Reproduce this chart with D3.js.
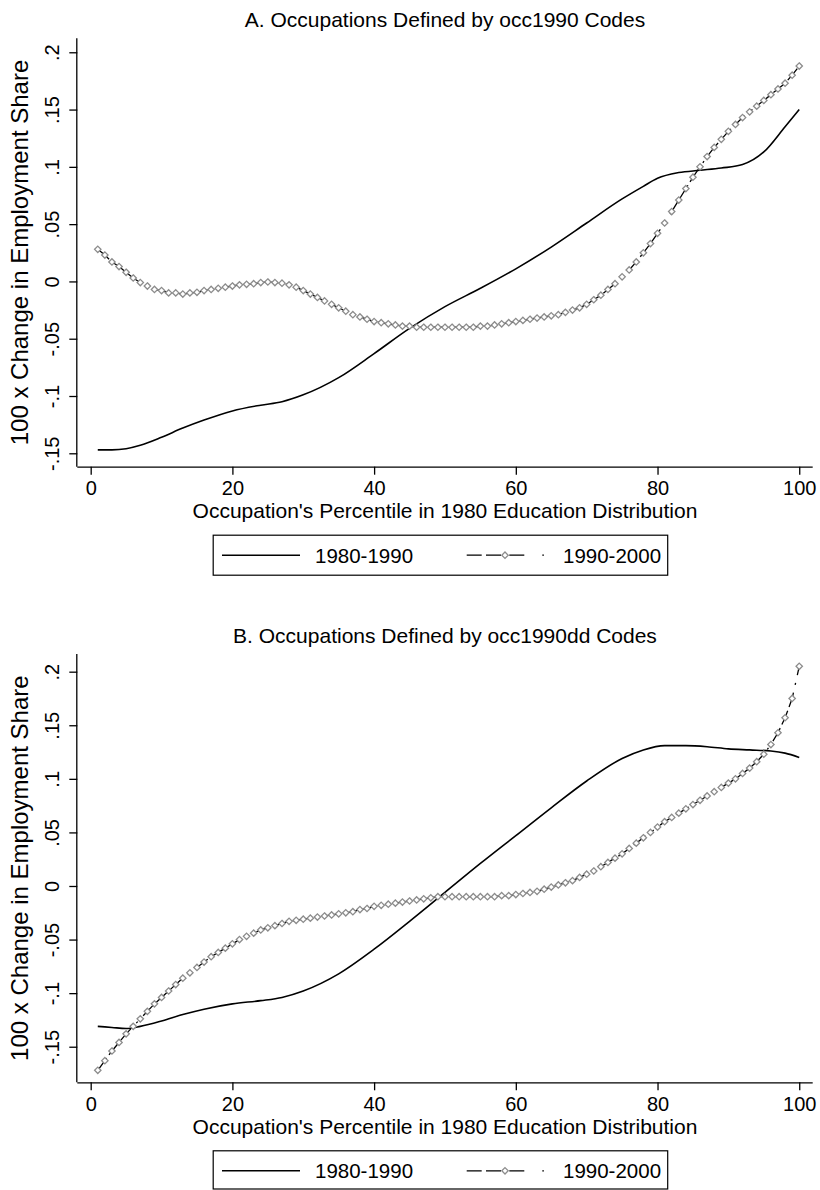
<!DOCTYPE html>
<html>
<head>
<meta charset="utf-8">
<script src="https://cdn.jsdelivr.net/npm/d3@7"></script>
<style>
  html, body { margin: 0; padding: 0; background: #fff; }
  svg { display: block; }
  text { font-family: "Liberation Sans", Arial, sans-serif; fill: #000; }
</style>
</head>
<body>
<svg id="chart" width="820" height="1190"></svg>
<script>
// ---------------- DATA ----------------
const percentiles = d3.range(1, 101);
const xTicks = [0, 20, 40, 60, 80, 100];
const yTicks = [-0.15, -0.1, -0.05, 0, 0.05, 0.1, 0.15, 0.2];
const yTickLabels = ["-.15", "-.1", "-.05", "0", ".05", ".1", ".15", ".2"];
const seriesNames = ["1980-1990", "1990-2000"];
const titleA = "A. Occupations Defined by occ1990 Codes";
const titleB = "B. Occupations Defined by occ1990dd Codes";
const xTitle = "Occupation's Percentile in 1980 Education Distribution";
const yTitle = "100 x Change in Employment Share";

// Panel A, 1980-1990 (smooth line)
const aLinePct = [1, 3, 5, 7, 10, 13, 16, 20, 24, 27, 30, 35, 40, 45, 50, 55, 60, 65, 70, 75, 78, 80, 83, 86, 89, 92, 95, 98, 100];
const aLineVal = [-0.147, -0.147, -0.146, -0.143, -0.136, -0.128, -0.121, -0.113, -0.108, -0.105, -0.099, -0.084, -0.063, -0.041, -0.022, -0.006, 0.011, 0.030, 0.051, 0.072, 0.083, 0.090, 0.095, 0.097, 0.099, 0.102, 0.113, 0.135, 0.150];

// Panel A, 1990-2000 (one marker per percentile 1..100)
const aMarkVal = [
  0.028, 0.023, 0.017, 0.013, 0.008, 0.003, -0.001, -0.004, -0.007, -0.008,
  -0.010, -0.010, -0.011, -0.010, -0.0095, -0.008, -0.007, -0.006, -0.005, -0.004,
  -0.003, -0.0025, -0.002, -0.001, -0.0005, -0.001, -0.0015, -0.003, -0.005, -0.008,
  -0.011, -0.014, -0.017, -0.020, -0.023, -0.026, -0.029, -0.031, -0.033, -0.035,
  -0.036, -0.037, -0.038, -0.039, -0.039, -0.040, -0.040, -0.040, -0.040, -0.040,
  -0.040, -0.040, -0.040, -0.040, -0.039, -0.039, -0.038, -0.037, -0.036, -0.035,
  -0.034, -0.033, -0.032, -0.031, -0.030, -0.029, -0.027, -0.025, -0.023, -0.020,
  -0.016, -0.012, -0.007, -0.002, 0.004, 0.010, 0.017, 0.025, 0.033, 0.042,
  0.051, 0.061, 0.071, 0.081, 0.091, 0.100, 0.109, 0.117, 0.124, 0.131,
  0.137, 0.143, 0.148, 0.153, 0.158, 0.163, 0.168, 0.173, 0.180, 0.188
];

// Panel B, 1980-1990 (smooth line)
const bLinePct = [1, 3, 5, 7, 10, 13, 16, 20, 24, 27, 30, 35, 40, 45, 50, 55, 60, 65, 70, 75, 78, 81, 84, 87, 90, 93, 96, 98, 100];
const bLineVal = [-0.131, -0.132, -0.133, -0.131, -0.126, -0.120, -0.115, -0.110, -0.107, -0.104, -0.098, -0.082, -0.059, -0.033, -0.006, 0.021, 0.047, 0.073, 0.098, 0.119, 0.127, 0.131, 0.131, 0.130, 0.128, 0.127, 0.126, 0.124, 0.120];

// Panel B, 1990-2000 (one marker per percentile 1..100)
const bMarkVal = [
  -0.172, -0.163, -0.154, -0.146, -0.138, -0.131, -0.124, -0.117, -0.110, -0.104,
  -0.098, -0.092, -0.086, -0.081, -0.076, -0.071, -0.066, -0.062, -0.058, -0.054,
  -0.050, -0.047, -0.044, -0.041, -0.039, -0.037, -0.035, -0.033, -0.032, -0.031,
  -0.030, -0.029, -0.028, -0.027, -0.026, -0.025, -0.024, -0.022, -0.021, -0.019,
  -0.018, -0.017, -0.016, -0.015, -0.014, -0.013, -0.012, -0.011, -0.010, -0.010,
  -0.010, -0.010, -0.010, -0.010, -0.010, -0.010, -0.010, -0.009, -0.009, -0.008,
  -0.007, -0.006, -0.005, -0.003, -0.001, 0.001, 0.003, 0.005, 0.008, 0.011,
  0.014, 0.018, 0.022, 0.026, 0.030, 0.035, 0.040, 0.045, 0.050, 0.055,
  0.060, 0.064, 0.068, 0.072, 0.076, 0.080, 0.084, 0.088, 0.092, 0.096,
  0.100, 0.105, 0.110, 0.116, 0.123, 0.132, 0.143, 0.157, 0.175, 0.205
];

// ---------------- DRAW ----------------
const svg = d3.select("#chart");
const MARK_GREY = "#8c8c8c";
const DASH = "15,4,15,4,15,8,2,8";
const FONT = '"Liberation Sans", Arial, sans-serif';
const H = 1190;

function panel(cfg) {
  const g = svg.append("g");
  const x = d3.scaleLinear().domain([-1.89, 101.9]).range([77.3, 812.7]);
  const y = d3.scaleLinear().domain(cfg.yDomain).range([cfg.bottom, cfg.top]);

  // title
  g.append("text").attr("x", 445).attr("y", cfg.top - 11)
    .attr("text-anchor", "middle").style("font-size", "21px").text(cfg.title);

  // axes
  const xAxis = d3.axisBottom(x).tickValues(xTicks).tickSize(8).tickFormat(d3.format("d"));
  const gx = g.append("g").attr("transform", `translate(0,${cfg.bottom})`).call(xAxis);
  gx.select(".domain").attr("d", `M77.3,0.5H812.7`).attr("stroke", "#000").attr("stroke-width", 1.3);
  gx.selectAll(".tick line").attr("stroke", "#000").attr("stroke-width", 1.3);
  gx.selectAll(".tick text").style("font-size", "20px").style("font-family", FONT)
    .attr("fill", "#000").attr("dy", null).attr("y", 28.5);

  const yAxis = d3.axisLeft(y).tickValues(yTicks).tickSize(8).tickFormat((d, i) => yTickLabels[i]);
  const gy = g.append("g").attr("transform", `translate(77.3,0)`).call(yAxis);
  gy.select(".domain").attr("d", `M-0.5,${cfg.top}V${cfg.bottom}`).attr("stroke", "#000").attr("stroke-width", 1.3);
  gy.selectAll(".tick line").attr("stroke", "#000").attr("stroke-width", 1.3);
  gy.selectAll(".tick text")
    .style("font-size", "20px").style("font-family", FONT)
    .attr("fill", "#000").attr("x", null).attr("dy", null)
    .attr("text-anchor", "middle")
    .attr("transform", "translate(-18,0) rotate(-90)");

  // axis titles
  g.append("text").attr("x", 445).attr("y", cfg.bottom + 51.5)
    .attr("text-anchor", "middle").style("font-size", "21px").text(xTitle);
  g.append("text")
    .attr("transform", `translate(28,${(cfg.top + cfg.bottom) / 2}) rotate(-90)`)
    .attr("text-anchor", "middle").style("font-size", "24px").text(yTitle);

  // 1980-1990 smooth line
  const lineData = cfg.linePct.map((p, i) => [p, cfg.lineVal[i]]);
  const line = d3.line().x(d => x(d[0])).y(d => y(d[1])).curve(d3.curveMonotoneX);
  g.append("path").datum(lineData).attr("d", line)
    .attr("fill", "none").attr("stroke", "#000").attr("stroke-width", 1.6);

  // 1990-2000 dashed line with diamonds
  const markData = percentiles.map((p, i) => [p, cfg.markVal[i]]);
  const line2 = d3.line().x(d => x(d[0])).y(d => y(d[1])).curve(d3.curveLinear);
  g.append("path").datum(markData).attr("d", line2)
    .attr("fill", "none").attr("stroke", "#000").attr("stroke-width", 1.3)
    .attr("stroke-dasharray", DASH);
  const diamond = d3.symbol().type(d3.symbolDiamond2).size(26);
  g.selectAll("path.mk").data(markData).join("path").attr("class", "mk")
    .attr("transform", d => `translate(${x(d[0])},${y(d[1])})`)
    .attr("d", diamond)
    .attr("fill", "#fff").attr("stroke", MARK_GREY).attr("stroke-width", 1.3);

  // legend
  const lg = g.append("g");
  const legTop = cfg.bottom + 68.5;
  const legH = Math.min(40, H - 1 - legTop);
  lg.append("rect").attr("x", 213.2).attr("y", legTop).attr("width", 454.5).attr("height", legH)
    .attr("fill", "#fff").attr("stroke", "#000").attr("stroke-width", 1.2);
  const cy = legTop + 20;
  lg.append("line").attr("x1", 222).attr("x2", 300).attr("y1", cy).attr("y2", cy)
    .attr("stroke", "#000").attr("stroke-width", 1.6);
  lg.append("text").attr("x", 315).attr("y", cy + 7.5).style("font-size", "20.5px").text(seriesNames[0]);
  lg.append("line").attr("x1", 466.7).attr("x2", 545).attr("y1", cy).attr("y2", cy)
    .attr("stroke", "#000").attr("stroke-width", 1.3).attr("stroke-dasharray", "15,4.3,15,8.3,15,18,1.6,30");
  lg.append("path").attr("transform", `translate(505,${cy})`).attr("d", diamond)
    .attr("fill", "#fff").attr("stroke", MARK_GREY).attr("stroke-width", 1.3);
  lg.append("text").attr("x", 563).attr("y", cy + 7.5).style("font-size", "20.5px").text(seriesNames[1]);
}

panel({
  title: titleA, top: 38.3, bottom: 466.7, yDomain: [-0.1617, 0.2122],
  linePct: aLinePct, lineVal: aLineVal, markVal: aMarkVal
});
panel({
  title: titleB, top: 654, bottom: 1082.3, yDomain: [-0.1832, 0.2165],
  linePct: bLinePct, lineVal: bLineVal, markVal: bMarkVal
});
</script>
</body>
</html>
